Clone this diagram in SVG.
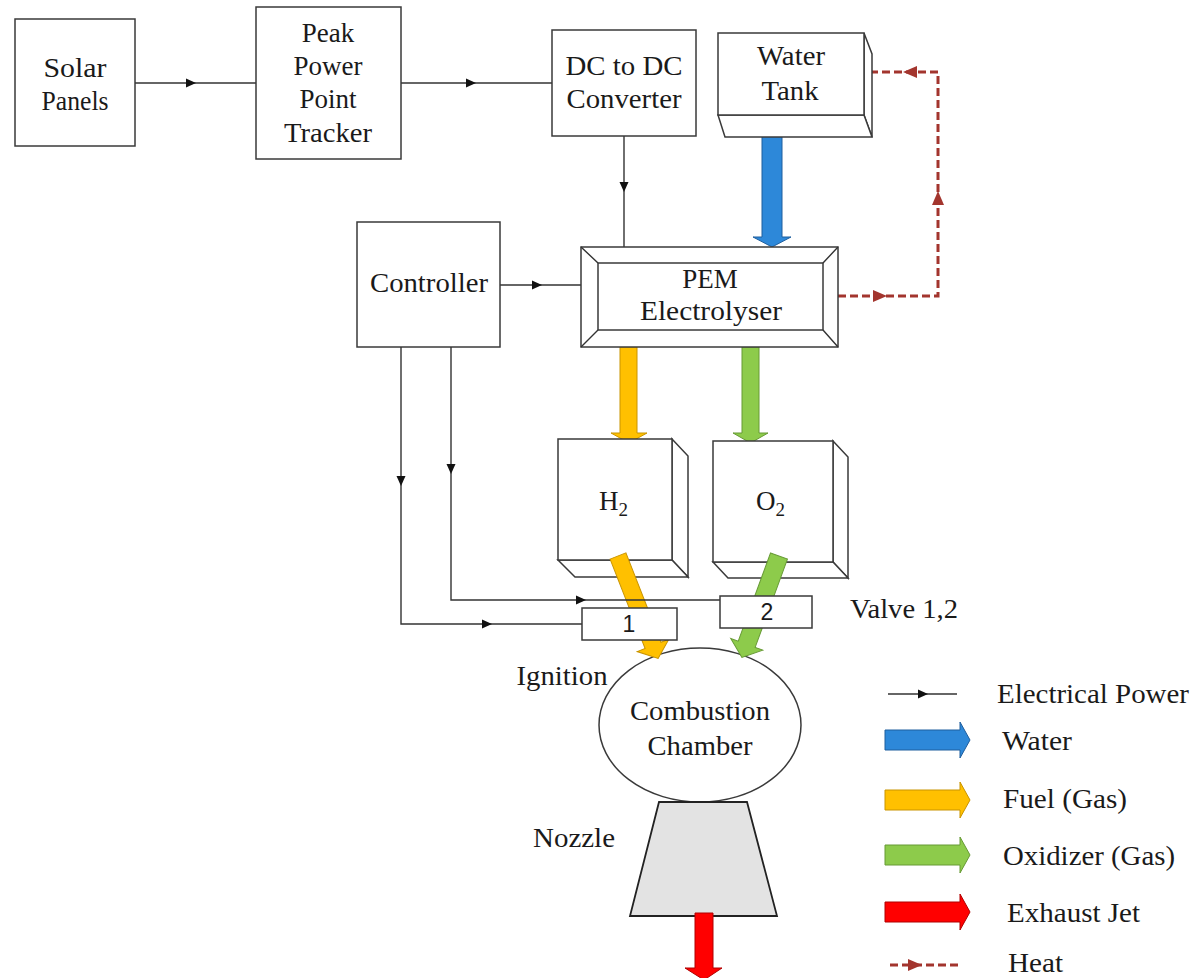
<svg xmlns="http://www.w3.org/2000/svg" xmlns:xlink="http://www.w3.org/1999/xlink" width="1197" height="978" viewBox="0 0 1197 978">
<style>
.box{fill:#fff;stroke:#3a3a3a;stroke-width:1.5}
.ln{fill:none;stroke:#333;stroke-width:1.4}
.heat{fill:none;stroke:#A3352E;stroke-width:3;stroke-dasharray:8 4}
.t{font-family:"Liberation Serif","Times New Roman",serif;font-size:27px;fill:#1a1a1a;text-anchor:middle}
.tl{font-family:"Liberation Serif","Times New Roman",serif;font-size:27px;fill:#1a1a1a;text-anchor:start}
.num{font-family:"Liberation Sans",Arial,sans-serif;font-size:23px;fill:#1a1a1a;text-anchor:middle}
.blue{fill:#2D88D9;stroke:#1F5E9E;stroke-width:1}
.yel{fill:#FFC000;stroke:#C99400;stroke-width:1}
.grn{fill:#8DCB4B;stroke:#679A35;stroke-width:1}
.red{fill:#FF0000;stroke:#B00000;stroke-width:1}
</style>
<defs>
<path id="tri" d="M-4,-4.5 L6,0 L-4,4.5 Z" fill="#111"/>
<path id="htri" d="M-7,-6 L7,0 L-7,6 Z" fill="#A3352E"/>
</defs>
<rect width="1197" height="978" fill="#fff"/>

<g id="connectors">
<line class="ln" x1="135" y1="83" x2="256" y2="83"/>
<use xlink:href="#tri" transform="translate(190,83)"/>
<line class="ln" x1="401" y1="83" x2="552" y2="83"/>
<use xlink:href="#tri" transform="translate(470,83)"/>
<line class="ln" x1="624" y1="136" x2="624" y2="247"/>
<use xlink:href="#tri" transform="translate(624,186) rotate(90)"/>
<line class="ln" x1="500" y1="285" x2="581" y2="285"/>
<use xlink:href="#tri" transform="translate(536,285)"/>
<path class="heat" d="M838,296 H938 V72 H865"/>
<use xlink:href="#htri" transform="translate(880,296)"/>
<use xlink:href="#htri" transform="translate(938,198) rotate(-90)"/>
<use xlink:href="#htri" transform="translate(910,72) rotate(180)"/>
<polygon class="blue" points="762,127 782,127 782,237 791,237 772,247 753,237 762,237"/>
<polygon class="yel" points="620,347 637,347 637,433 647,433 629,443 611,433 620,433"/>
<polygon class="grn" points="742,347 759,347 759,433 768,433 750.5,443 733,433 742,433"/>
</g>

<g id="solar-panels">
<rect class="box" x="15" y="19" width="120" height="127"/>
<text class="t" x="75" y="77" textLength="63" lengthAdjust="spacingAndGlyphs">Solar</text>
<text class="t" x="75" y="110" textLength="67" lengthAdjust="spacingAndGlyphs">Panels</text>
</g>

<g id="pppt">
<rect class="box" x="256" y="7" width="145" height="152"/>
<text class="t" x="328" y="42">Peak</text>
<text class="t" x="328" y="75">Power</text>
<text class="t" x="328" y="108">Point</text>
<text class="t" x="328" y="142" textLength="88" lengthAdjust="spacingAndGlyphs">Tracker</text>
</g>

<g id="dc-dc">
<rect class="box" x="552" y="30" width="144" height="106"/>
<text class="t" x="624" y="75" textLength="117" lengthAdjust="spacingAndGlyphs">DC to DC</text>
<text class="t" x="624" y="108" textLength="115" lengthAdjust="spacingAndGlyphs">Converter</text>
</g>

<g id="water-tank">
<polygon class="box" points="864,33 872,54 872,137 864,115"/>
<polygon class="box" points="718,115 864,115 872,137 725,137"/>
<rect class="box" x="718" y="33" width="146" height="82"/>
<text class="t" x="791" y="65" textLength="68" lengthAdjust="spacingAndGlyphs">Water</text>
<text class="t" x="790" y="100" textLength="57" lengthAdjust="spacingAndGlyphs">Tank</text>
</g>

<g id="controller">
<rect class="box" x="357" y="222" width="143" height="125"/>
<text class="t" x="429" y="292" textLength="118" lengthAdjust="spacingAndGlyphs">Controller</text>
</g>

<g id="pem">
<rect class="box" x="581" y="247" width="257" height="100"/>
<rect class="box" x="598" y="263" width="225" height="67"/>
<path class="ln" d="M581,247 L598,263 M838,247 L823,263 M581,347 L598,330 M838,347 L823,330"/>
<text class="t" x="710" y="288">PEM</text>
<text class="t" x="711" y="320" textLength="142" lengthAdjust="spacingAndGlyphs">Electrolyser</text>
</g>

<g id="h2-tank">
<polygon class="box" points="672,439 688,456 688,577 672,560"/>
<polygon class="box" points="558,560 672,560 688,577 575,577"/>
<rect class="box" x="558" y="439" width="114" height="121"/>
<text class="tl" x="599" y="510">H<tspan font-size="19" dy="6">2</tspan></text>
</g>

<g id="o2-tank">
<polygon class="box" points="833,441 848,457 848,578 833,562"/>
<polygon class="box" points="713,562 833,562 848,578 728,578"/>
<rect class="box" x="713" y="441" width="120" height="121"/>
<text class="tl" x="756" y="510">O<tspan font-size="19" dy="6">2</tspan></text>
</g>

<g id="combustion-chamber">
<ellipse class="box" cx="700" cy="725" rx="101" ry="77"/>
<text class="t" x="700" y="720" textLength="140" lengthAdjust="spacingAndGlyphs">Combustion</text>
<text class="t" x="700" y="755" textLength="105" lengthAdjust="spacingAndGlyphs">Chamber</text>
<text class="t" x="562" y="685" textLength="91" lengthAdjust="spacingAndGlyphs">Ignition</text>
</g>

<g id="feed-arrows">
<polygon class="yel" transform="translate(618,556) rotate(-21.4)" points="-8.5,0 8.5,0 8.5,96 17,96 0,110 -17,96 -8.5,96"/>
<polygon class="grn" transform="translate(779,556) rotate(20.1)" points="-9,0 9,0 9,94 17,94 0,108 -17,94 -9,94"/>
</g>

<g id="control-lines">
<path class="ln" d="M401,347 V624 H582"/>
<use xlink:href="#tri" transform="translate(401,480) rotate(90)"/>
<use xlink:href="#tri" transform="translate(486,624)"/>
<path class="ln" d="M451,347 V600 H720"/>
<use xlink:href="#tri" transform="translate(451,468) rotate(90)"/>
<use xlink:href="#tri" transform="translate(580,600)"/>
</g>

<g id="valve-1">
<rect class="box" x="582" y="608" width="95" height="32"/>
<text class="num" x="629" y="632">1</text>
</g>

<g id="valve-2">
<rect class="box" x="720" y="596" width="92" height="32"/>
<text class="num" x="767" y="620">2</text>
<text class="tl" x="850" y="618" textLength="108" lengthAdjust="spacingAndGlyphs">Valve 1,2</text>
</g>

<g id="nozzle">
<polygon points="659,802 747,802 777,916 630,916" fill="#E3E3E3" stroke="#222" stroke-width="1.8"/>
<text class="t" x="574" y="847" textLength="82" lengthAdjust="spacingAndGlyphs">Nozzle</text>
<polygon class="red" points="695,913 713,913 713,968 722,968 704,980 685,968 695,968"/>
</g>

<g id="legend">
<line class="ln" x1="888" y1="694" x2="957" y2="694"/>
<use xlink:href="#tri" transform="translate(922,694)"/>
<text class="tl" x="997" y="703" textLength="192" lengthAdjust="spacingAndGlyphs">Electrical Power</text>
<polygon class="blue" points="885,730 960,730 960,722 970,740 960,758 960,750 885,750"/>
<text class="tl" x="1002" y="750" textLength="70" lengthAdjust="spacingAndGlyphs">Water</text>
<polygon class="yel" points="885,790 960,790 960,782 970,800 960,818 960,810 885,810"/>
<text class="tl" x="1003" y="808" textLength="124" lengthAdjust="spacingAndGlyphs">Fuel (Gas)</text>
<polygon class="grn" points="885,845 960,845 960,837 970,855 960,873 960,865 885,865"/>
<text class="tl" x="1003" y="865" textLength="172" lengthAdjust="spacingAndGlyphs">Oxidizer (Gas)</text>
<polygon class="red" points="885,902 960,902 960,894 970,912 960,930 960,922 885,922"/>
<text class="tl" x="1007" y="922" textLength="133" lengthAdjust="spacingAndGlyphs">Exhaust Jet</text>
<line class="heat" x1="890" y1="965" x2="960" y2="965"/>
<use xlink:href="#htri" transform="translate(915,965)"/>
<text class="tl" x="1008" y="972" textLength="55" lengthAdjust="spacingAndGlyphs">Heat</text>
</g>
</svg>
